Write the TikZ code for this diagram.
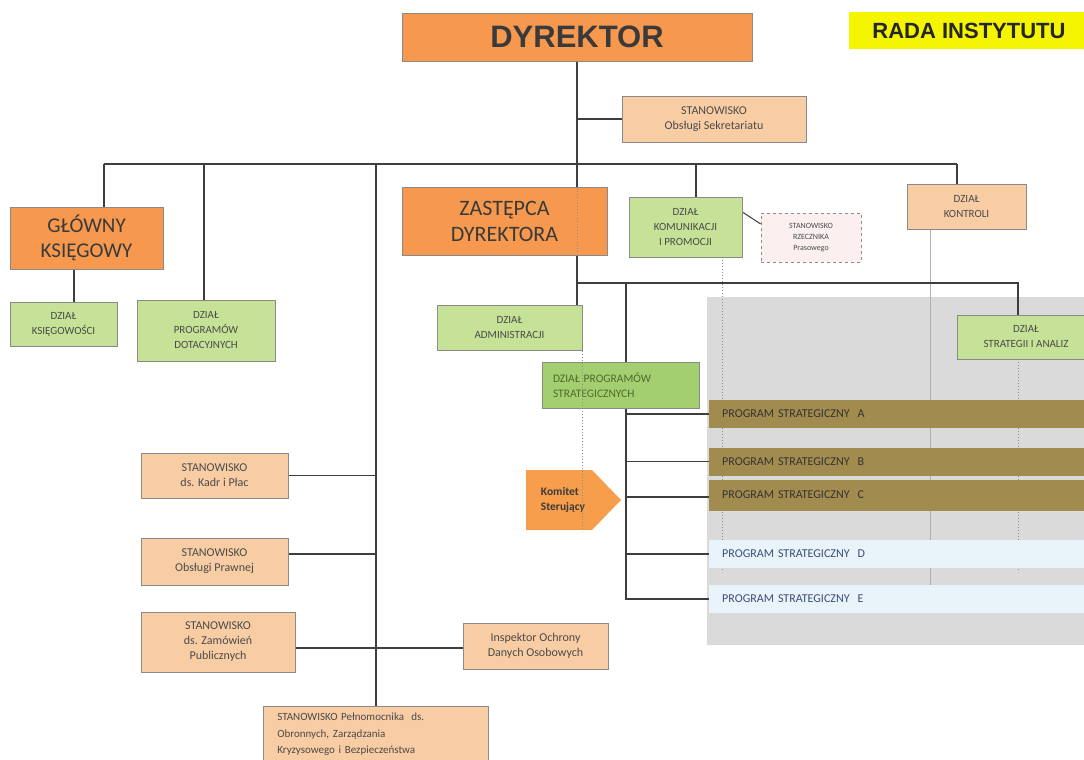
\documentclass[tikz,border=0pt]{standalone}
\usepackage{fontspec}
\setmainfont{Carlito}
\newfontfamily\headfont{Liberation Sans}
\pgfdeclarelayer{bg}
\pgfdeclarelayer{lines}
\pgfsetlayers{bg,lines,main}
\definecolor{orangeC}{HTML}{F6994F}
\definecolor{peachC}{HTML}{F9CDA4}
\definecolor{greenC}{HTML}{C6E296}
\definecolor{greenD}{HTML}{A4CF70}
\definecolor{oliveC}{HTML}{A28B4E}
\definecolor{lblueC}{HTML}{E8F4F9}
\definecolor{greyC}{HTML}{DADADA}
\definecolor{pinkC}{HTML}{FCEFEF}
\definecolor{yellowC}{HTML}{F5F500}
\definecolor{lineC}{HTML}{3E3E3E}
\definecolor{borderC}{HTML}{8A8A8A}
\definecolor{txtC}{HTML}{3A3A3A}
\definecolor{txtS}{HTML}{4A4A4A}
\definecolor{txtB}{HTML}{3B4C7A}
\definecolor{txtG}{HTML}{4F6A2E}
\definecolor{dotC}{HTML}{8C8C8C}
\tikzset{
  conn/.style={draw=lineC, line width=1.5pt},
  dotl/.style={draw=dotC, line width=1pt, dotted},
  faint/.style={draw=dotC!70, line width=0.8pt},
  basebox/.style={rectangle, draw=borderC, line width=0.7pt, inner sep=0pt, align=center, text=txtC},
  orangebox/.style={basebox, fill=orangeC, font=\fontsize{21}{25}\selectfont},
  peachbox/.style={basebox, fill=peachC, text=txtS, font=\fontsize{12}{15}\selectfont},
  greenbox/.style={basebox, fill=greenC, text=txtS, font=\fontsize{11}{15}\selectfont},
  progbar/.style={rectangle, inner sep=0pt, inner xsep=13pt, anchor=west, minimum height=28pt,
    text width=355pt, align=left, font=\fontsize{12}{14}\selectfont},
  progO/.style={progbar, fill=oliveC, text=black!80},
  progL/.style={progbar, fill=lblueC, text=txtB}
}
\begin{document}
\begin{tikzpicture}[x=1pt,y=-1pt]
\useasboundingbox (0,0) rectangle (1084,760);
\clip (0,0) rectangle (1084,760);

% ---- nodes ----
\node[orangebox, minimum width=350pt, minimum height=48pt, font=\headfont\bfseries\fontsize{31}{34}\selectfont] (dyr) at (577,37) {DYREKTOR};
\node[basebox, draw=none, fill=yellowC, minimum width=240pt, minimum height=37pt, font=\headfont\bfseries\fontsize{22}{26}\selectfont, text=black!85] (rada) at (969,30.5) {RADA INSTYTUTU};
\node[peachbox, minimum width=184pt, minimum height=46pt] (sek) at (714,119) {STANOWISKO\\Obsługi Sekretariatu};
\node[orangebox, minimum width=153pt, minimum height=62pt] (glo) at (86.5,238) {GŁÓWNY\\KSIĘGOWY};
\node[greenbox, minimum width=107pt, minimum height=44pt] (ksi) at (63.5,324) {DZIAŁ\\KSIĘGOWOŚCI};
\node[greenbox, minimum width=138pt, minimum height=61pt] (dot) at (206,330.5) {DZIAŁ\\PROGRAMÓW\\DOTACYJNYCH};
\node[orangebox, minimum width=205pt, minimum height=68pt, font=\fontsize{22}{26}\selectfont] (zas) at (504.5,221) {ZASTĘPCA\\DYREKTORA};
\node[greenbox, minimum width=113pt, minimum height=60pt] (kom) at (685.5,227) {DZIAŁ\\KOMUNIKACJI\\I PROMOCJI};
\node[basebox, fill=pinkC, draw=dotC, dashed, minimum width=100pt, minimum height=49pt, text=txtS, font=\fontsize{8}{11}\selectfont] (rze) at (811,237.5) {STANOWISKO\\RZECZNIKA\\Prasowego};
\node[peachbox, minimum width=119pt, minimum height=45pt, font=\fontsize{11}{15}\selectfont] (kon) at (966.5,206.5) {DZIAŁ\\KONTROLI};
\node[greenbox, minimum width=145pt, minimum height=45pt] (adm) at (509.5,327.5) {DZIAŁ\\ADMINISTRACJI};
\node[greenbox, minimum width=138pt, minimum height=44pt] (str) at (1026,337) {DZIAŁ\\STRATEGII I ANALIZ};
\node[greenbox, fill=greenD, text=txtG, minimum width=157pt, minimum height=46pt, text width=135pt, align=left, font=\fontsize{11.5}{15}\selectfont] (dps) at (620.5,385) {DZIAŁ PROGRAMÓW\\STRATEGICZNYCH};
\node[progO] (pA) at (709,414) {PROGRAM STRATEGICZNY\ \ A};
\node[progO, minimum height=28pt] (pB) at (709,461.5) {PROGRAM STRATEGICZNY\ \ B};
\node[progO, minimum height=31pt] (pC) at (709,495) {PROGRAM STRATEGICZNY\ \ C};
\node[progL] (pD) at (709,554) {PROGRAM STRATEGICZNY\ \ D};
\node[progL] (pE) at (709,599) {PROGRAM STRATEGICZNY\ \ E};
\fill[orangeC!95!yellow] (526,470) -- (592,470) -- (621,500) -- (592,530) -- (526,530) -- cycle;
\node[align=left, text=txtC, font=\bfseries\fontsize{11.5}{15}\selectfont] (komi) at (563,500) {Komitet\\Sterujący};
\node[peachbox, minimum width=147pt, minimum height=45pt] (kad) at (214.5,475.5) {STANOWISKO\\ds. Kadr i Płac};
\node[peachbox, minimum width=147pt, minimum height=47pt] (pra) at (214.5,561.5) {STANOWISKO\\Obsługi Prawnej};
\node[peachbox, minimum width=154pt, minimum height=60pt] (zam) at (218,642) {STANOWISKO\\ds. Zamówień\\Publicznych};
\node[peachbox, minimum width=145pt, minimum height=46pt] (ins) at (535.5,646) {Inspektor Ochrony\\Danych Osobowych};
\node[peachbox, anchor=north west, inner xsep=14pt, inner ysep=7pt, text width=197pt, align=left, font=\fontsize{11}{16.5}\selectfont] (pel) at (263,706) {STANOWISKO Pełnomocnika\ \ ds.\\Obronnych, Zarządzania\\Kryzysowego i Bezpieczeństwa};

% ---- coordinates ----
\coordinate (b1) at (104,164);
\coordinate (b2) at (204,164);
\coordinate (b3) at (376,164);
\coordinate (b4) at (577,164);
\coordinate (b5) at (696,164);
\coordinate (b6) at (957,164);
\coordinate (z1) at (577,283);
\coordinate (z2) at (626,283);
\coordinate (z3) at (1018,283);
\coordinate (k1) at (74,269);

% ---- background ----
\begin{pgfonlayer}{bg}
\fill[white] (0,0) rectangle (1084,760);
\fill[greyC] (707,297) rectangle (1090,645);
\draw[dotl] (722,257) -- (722,572);
\draw[faint] (930,229) -- (930,590);
\draw[dotl] (1018,359) -- (1018,572);
\end{pgfonlayer}

% ---- connectors ----
\begin{pgfonlayer}{lines}
\draw[conn] (dyr.south) -- (b4) -- (z1) -- (z1 |- adm.north);
\draw[conn] (dyr.south |- sek.west) -- (sek.west);
\draw[conn] (b1) -- (b6);
\draw[conn] (b1) -- (b1 |- glo.north);
\draw[conn] (k1) -- (k1 |- ksi.north);
\draw[conn] (b2) -- (b2 |- dot.north);
\draw[conn] (b3) -- (b3 |- pel.north);
\draw[conn] (b5) -- (b5 |- kom.north);
\draw[conn] (b6) -- (b6 |- kon.north);
\draw[conn, line width=1pt] ([yshift=15pt]kom.east) -- ([yshift=13.5pt]rze.west);
\draw[conn] (z1) -- (z3) -- (z3 |- str.north);
\draw[conn] (z2) -- (z2 |- pE.west) -- (pE.west);
\draw[conn] (z2 |- pA.west) -- (pA.west);
\draw[conn] (z2 |- pB.west) -- (pB.west);
\draw[conn] ([yshift=-2pt]z2 |- pC.west) -- ([yshift=-2pt]pC.west);
\draw[conn] (z2 |- pD.west) -- (pD.west);
\draw[conn] (kad.east) -- (b3 |- kad.east);
\draw[conn] ([yshift=7.5pt]pra.east) -- ([yshift=7.5pt]b3 |- pra.east);
\draw[conn] ([yshift=-6pt]zam.east) -- ([yshift=-2pt]ins.west);
\end{pgfonlayer}

% ---- overlays ----
\draw[dotl] (577,188) -- (577,254);
\draw[dotl] (582,351) -- (582,531);
\end{tikzpicture}
\end{document}
